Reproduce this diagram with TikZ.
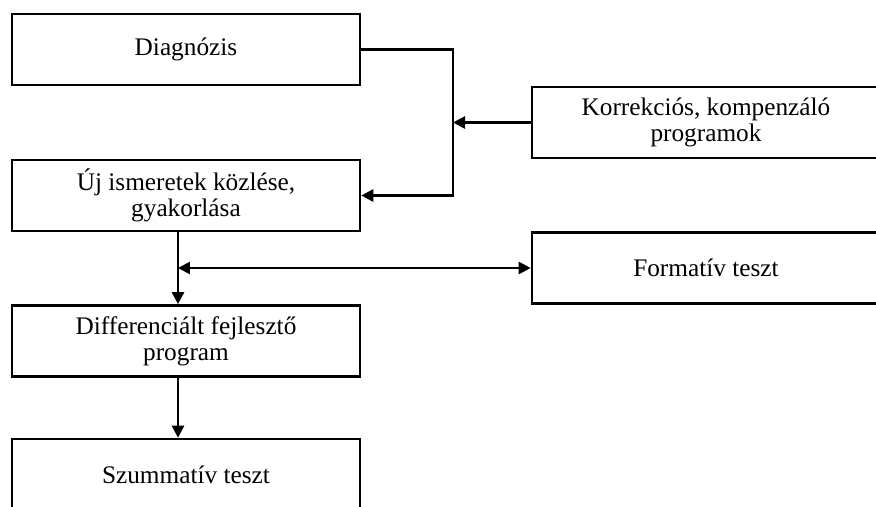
\documentclass[tikz,border=0pt]{standalone}
\usepackage{fontspec}
\setmainfont{Liberation Serif}
\usetikzlibrary{arrows.meta}

\begin{document}
\begin{tikzpicture}[x=0.02cm, y=-0.02cm,
    >={Triangle[length=0.24cm, width=0.24cm]},
    box/.style={draw, line width=1.5pt, minimum width=6.96cm, minimum height=1.42cm,
        align=center, inner sep=0pt, font=\fontsize{14.4}{15}\selectfont},
    conn/.style={line width=1.5pt, ->}]
    % frame of the picture
    \useasboundingbox (0,0) rectangle (876,507);
    \clip (0,0) rectangle (876,507);

    % main column
    \node[box] (diag) at (186,49.5) {Diagnózis};
    \node[box] (uj) at (186,195.5) {Új ismeretek közlése,\\gyakorlása};
    \node[box] (diff) at (186,341) {Differenciált fejlesztő\\program};
    \node[box, minimum height=1.44cm] (szum) at (186,475) {Szummatív teszt};

    % side boxes, cut by the right edge
    \node[box] (korr) at (706,122.5) {Korrekciós, kompenzáló\\programok};
    \node[box] (form) at (706,268) {Formatív teszt};

    % junctions
    \coordinate (junc) at (453,122.5);
    \coordinate (split) at (178,268);

    % connectors
    \draw[conn] (diag.east) -| (junc) |- (uj.east);
    \draw[conn] (korr.west) -- (junc);
    \draw[conn] (uj.south -| split) -- (diff.north -| split);
    \draw[conn, <->] (split) -- (form.west);
    \draw[conn] (diff.south -| split) -- (szum.north -| split);
\end{tikzpicture}
\end{document}
